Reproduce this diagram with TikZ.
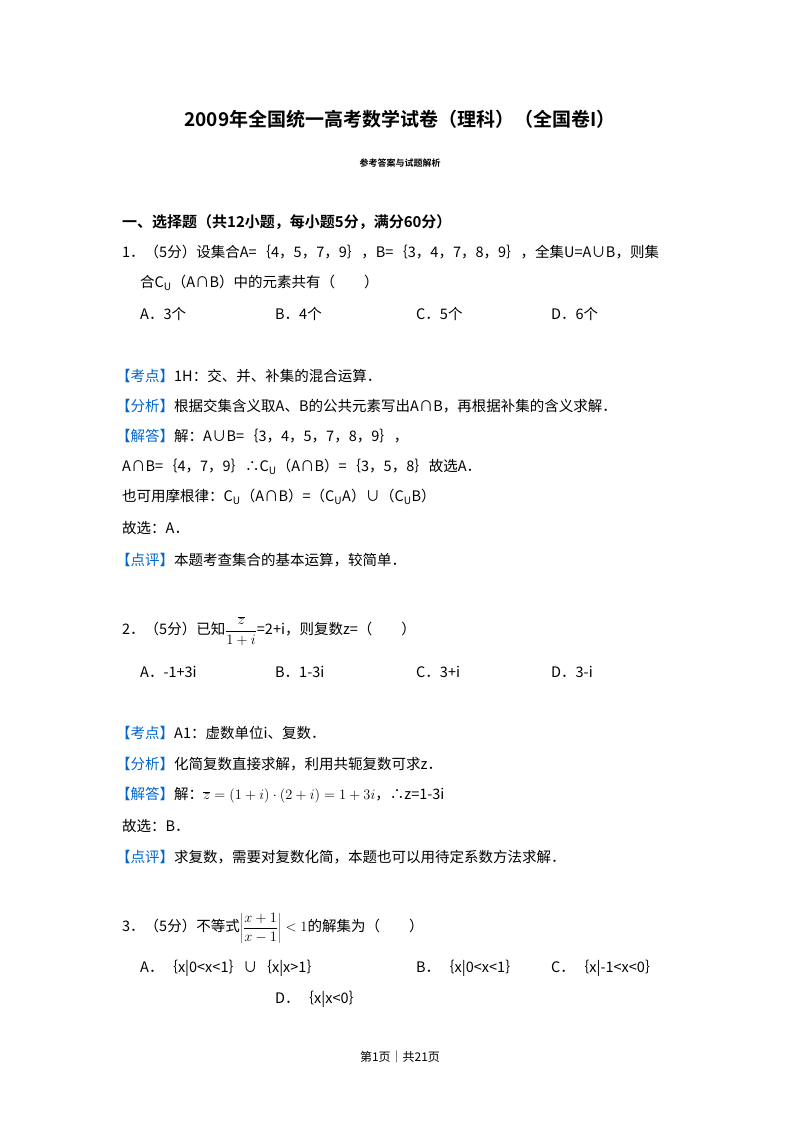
\documentclass[tikz,border=0pt]{standalone}
\usepackage{fontspec}
\setmainfont{Noto Sans CJK SC}[BoldFont={Noto Sans CJK SC Bold}]
\definecolor{lblue}{RGB}{0,102,204}
\newcommand{\lb}[1]{\textcolor{lblue}{【#1】}}
\begin{document}
\begin{tikzpicture}[x=1pt,y=-1pt,
  t/.style={anchor=west,inner sep=0pt,font=\fontsize{14.5}{17}\selectfont}]
\useasboundingbox[fill=white] (0,0) rectangle (800,1132);
\node[inner sep=0pt,font=\fontsize{19}{22}\bfseries\selectfont] (title) at (400,119) {2009年全国统一高考数学试卷（理科）（全国卷I）};
\node[inner sep=0pt,font=\fontsize{9}{11}\bfseries\selectfont] (sub) at (400,163) {参考答案与试题解析};
\node[t,font=\fontsize{15}{17}\bfseries\selectfont] (sec) at (122,222) {一、选择题（共12小题，每小题5分，满分60分）};
\node[t] (q1a) at (122,252) {1．（5分）设集合A=｛4，5，7，9｝，B=｛3，4，7，8，9｝，全集U=A∪B，则集};
\node[t] (q1b) at (140,283) {合C\textsubscript{U}（A∩B）中的元素共有（\quad\quad）};
\node[t] (q1A) at (140,314) {A．3个};
\node[t] (q1B) at (275,314) {B．4个};
\node[t] (q1C) at (416,314) {C．5个};
\node[t] (q1D) at (551,314) {D．6个};
\node[t,xshift=-6pt] (k1) at (122,376) {\lb{考点}1H：交、并、补集的混合运算．};
\node[t,xshift=-6pt] (f1) at (122,406) {\lb{分析}根据交集含义取A、B的公共元素写出A∩B，再根据补集的含义求解．};
\node[t,xshift=-6pt] (j1) at (122,436) {\lb{解答}解：A∪B=｛3，4，5，7，8，9｝，};
\node[t] (j1b) at (122,467) {A∩B=｛4，7，9｝∴C\textsubscript{U}（A∩B）=｛3，5，8｝故选A．};
\node[t] (j1c) at (122,497) {也可用摩根律：C\textsubscript{U}（A∩B）=（C\textsubscript{U}A）∪（C\textsubscript{U}B）};
\node[t] (j1d) at (122,528) {故选：A．};
\node[t,xshift=-6pt] (p1) at (122,560) {\lb{点评}本题考查集合的基本运算，较简单．};
\node[t] (q2) at (122,631) {2．（5分）已知$\displaystyle\frac{\overline{z}}{1+i}$=2+i，则复数z=（\quad\quad）};
\node[t] (q2A) at (140,672) {A．-1+3i};
\node[t] (q2B) at (275,672) {B．1-3i};
\node[t] (q2C) at (416,672) {C．3+i};
\node[t] (q2D) at (551,672) {D．3-i};
\node[t,xshift=-6pt] (k2) at (122,733) {\lb{考点}A1：虚数单位i、复数．};
\node[t,xshift=-6pt] (f2) at (122,764) {\lb{分析}化简复数直接求解，利用共轭复数可求z．};
\node[t,xshift=-6pt] (j2) at (122,795) {\lb{解答}解：$\overline{z}=(1+i)\cdot(2+i)=1+3i$，∴z=1-3i};
\node[t] (j2b) at (122,826) {故选：B．};
\node[t,xshift=-6pt] (p2) at (122,857) {\lb{点评}求复数，需要对复数化简，本题也可以用待定系数方法求解．};
\node[t] (q3) at (122,928) {3．（5分）不等式$\left|\displaystyle\frac{x+1}{x-1}\right|<1$的解集为（\quad\quad）};
\node[t] (q3A) at (140,968) {A．｛x|0<x<1｝∪｛x|x>1｝};
\node[t] (q3B) at (416,968) {B．｛x|0<x<1｝};
\node[t] (q3C) at (551,968) {C．｛x|-1<x<0｝};
\node[t] (q3D) at (275,999) {D．｛x|x<0｝};
\node[inner sep=0pt,font=\fontsize{12}{14}\selectfont] (foot) at (400,1057) {第1页｜共21页};
\end{tikzpicture}
\end{document}
